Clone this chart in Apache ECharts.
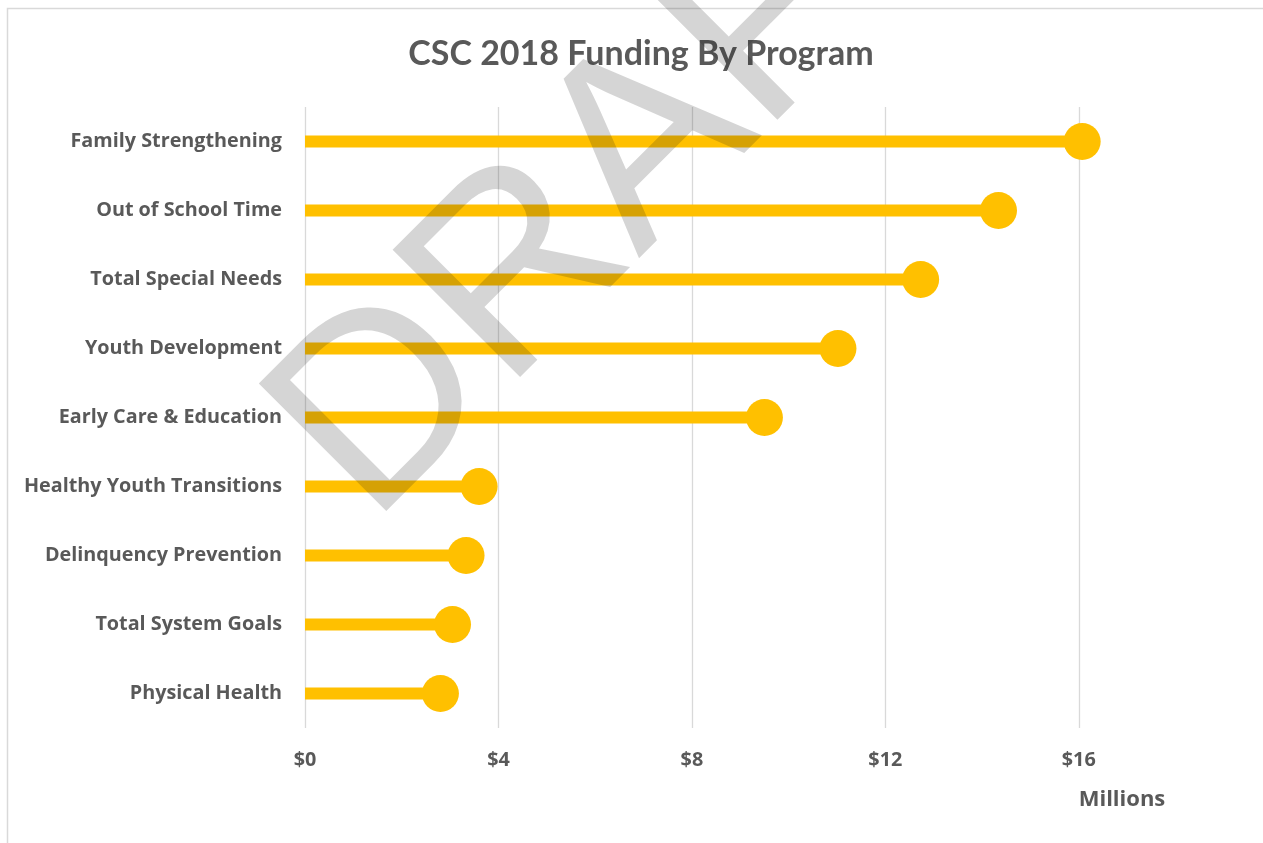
<!DOCTYPE html>
<html>
<head>
<meta charset="utf-8">
<script src="https://cdn.jsdelivr.net/npm/echarts@6/dist/echarts.min.js"></script>
<style>
html,body{margin:0;padding:0;background:#fff;overflow:hidden;}
#chart{width:1263px;height:843px;}
</style>
</head>
<body>
<div id="chart"></div>
<script>
var categories = ['Family Strengthening','Out of School Time','Total Special Needs','Youth Development','Early Care & Education','Healthy Youth Transitions','Delinquency Prevention','Total System Goals','Physical Health'];
var funding = [16.07, 14.34, 12.73, 11.02, 9.50, 3.60, 3.33, 3.05, 2.80];
var xTicks = [0, 4, 8, 12, 16];
var titleText = 'CSC 2018 Funding By Program';
var unitLabel = 'Millions';
var watermark = 'DRAFT';

var FONT = '"Open Sans"';
var TXT = '#595959';
var GOLD = '#FFC000';

var chart = echarts.init(document.getElementById('chart'), null, {renderer:'canvas'});
chart.setOption({
  animation: false,
  backgroundColor: '#fff',
  title: {
    text: titleText,
    left: 636, top: 32,
    textAlign: 'center',
    textStyle: {fontFamily: 'Lato', fontWeight: 'bold', fontSize: 34, color: TXT}
  },
  grid: {left: 305, right: 87.5, top: 107, height: 621, containLabel: false},
  xAxis: {
    type: 'value', min: 0, max: 18, interval: 4,
    axisLine: {show: false}, axisTick: {show: false},
    splitLine: {show: true, showMaxLine: false, lineStyle: {color: '#d9d9d9', width: 1.3}},
    axisLabel: {
      showMaxLabel: false,
      margin: 22,
      fontFamily: FONT, fontWeight: 'bold', fontSize: 19.8, color: TXT,
      formatter: function (v) { return xTicks.indexOf(v) >= 0 ? '$' + v : ''; }
    }
  },
  yAxis: {
    type: 'category', data: categories, inverse: true,
    axisLine: {show: false}, axisTick: {show: false}, splitLine: {show: false},
    axisLabel: {margin: 23, fontFamily: FONT, fontWeight: 'bold', fontSize: 19.8, color: TXT}
  },
  series: [
    {type: 'bar', data: funding, barWidth: 12, itemStyle: {color: GOLD}, silent: true},
    {type: 'scatter', data: funding, symbol: 'circle', symbolSize: 37, itemStyle: {color: GOLD, opacity: 1}, silent: true}
  ],
  graphic: [
    {type: 'polyline', z: -10, silent: true, shape: {points: [[7.5, 843], [7.5, 8.5], [1263, 8.5]]}, style: {fill: null, stroke: '#d9d9d9', lineWidth: 1.5}},
    {type: 'text', z: 50, silent: true, x: 1122, y: 800, style: {text: unitLabel, font: 'bold 22px "Open Sans"', fill: TXT, textAlign: 'center', textVerticalAlign: 'middle', verticalAlign: 'middle'}},
    {type: 'text', z: 100, silent: true, x: 320, y: 475, rotation: Math.PI / 4,
      style: {text: watermark, font: 'normal 262px "Liberation Sans"', fill: 'rgba(20,20,20,0.18)', textAlign: 'left', textVerticalAlign: 'middle', verticalAlign: 'middle'}}
  ]
});
</script>
</body>
</html>
